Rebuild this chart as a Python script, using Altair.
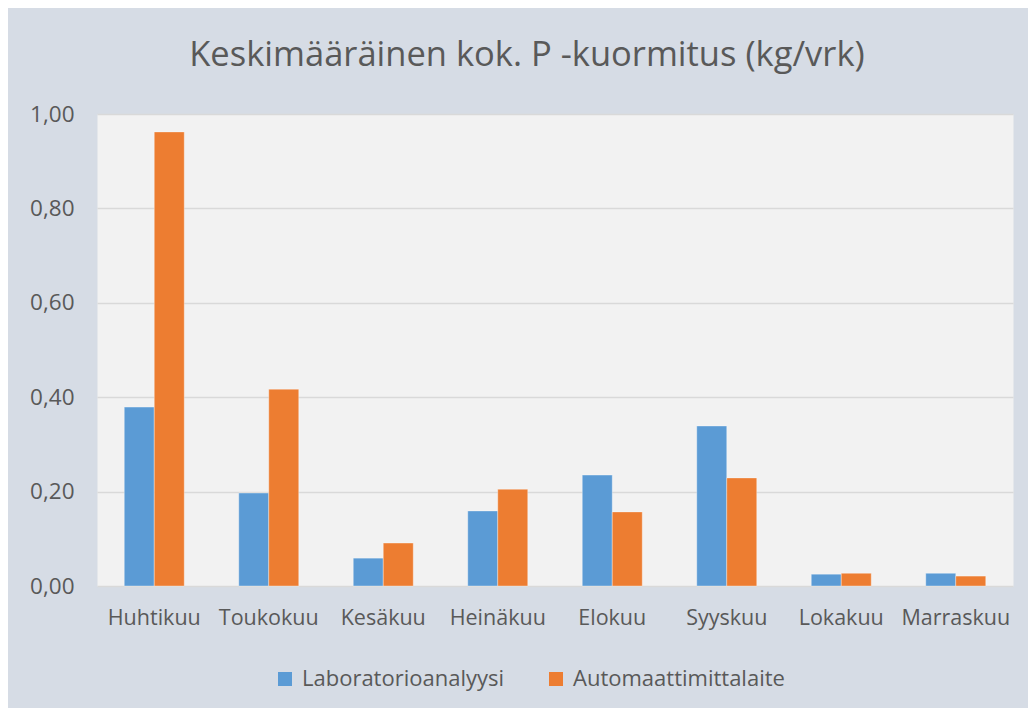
import altair as alt
import pandas as pd

months = ["Huhtikuu", "Toukokuu", "Kesäkuu", "Heinäkuu", "Elokuu", "Syyskuu", "Lokakuu", "Marraskuu"]
series = ["Laboratorioanalyysi", "Automaattimittalaite"]
lab = [0.379, 0.197, 0.059, 0.159, 0.235, 0.339, 0.025, 0.027]
auto = [0.962, 0.417, 0.091, 0.205, 0.157, 0.229, 0.027, 0.021]

rows = []
for m, a, b in zip(months, lab, auto):
    rows.append({"kuukausi": m, "sarja": series[0], "arvo": a})
    rows.append({"kuukausi": m, "sarja": series[1], "arvo": b})
df = pd.DataFrame(rows)

FONT = "Open Sans"
GREY = "#595959"

chart = alt.Chart(df).mark_bar(stroke="#ffffff", strokeOpacity=0.35, strokeWidth=1).encode(
    x=alt.X("kuukausi:N", sort=months, title=None,
            scale=alt.Scale(paddingInner=0.476, paddingOuter=0.238),
            axis=alt.Axis(labelAngle=0, ticks=False, domain=False, labelPadding=21,
                          labelFontSize=21.5, labelColor=GREY, labelFont=FONT)),
    xOffset=alt.XOffset("sarja:N", sort=series, scale=alt.Scale(paddingInner=0, paddingOuter=0)),
    y=alt.Y("arvo:Q", title=None,
            scale=alt.Scale(domain=[0, 1]),
            axis=alt.Axis(values=[0, 0.2, 0.4, 0.6, 0.8, 1.0],
                          labelExpr="replace(format(datum.value, '.2f'), '.', ',')",
                          ticks=False, domain=False, labelPadding=23,
                          labelFontSize=22.5, labelColor=GREY, labelFont=FONT,
                          gridColor="#d9d9d9", gridWidth=1.5)),
    color=alt.Color("sarja:N", sort=series, title=None,
                    scale=alt.Scale(domain=series, range=["#5b9bd5", "#ed7d31"]),
                    legend=alt.Legend(orient="none", legendX=177, legendY=554, direction="horizontal",
                                      symbolType="square", symbolSize=196, symbolStrokeWidth=0,
                                      labelFontSize=22, labelColor=GREY, labelFont=FONT,
                                      labelLimit=400, columnPadding=40, labelOffset=6)),
).properties(
    width=916,
    height=472,
    title=alt.TitleParams("Keskimääräinen kok. P -kuormitus (kg/vrk)", fontSize=34.5, font=FONT,
                          fontWeight="normal", color=GREY, offset=30, anchor="middle", dx=-28),
    autosize=alt.AutoSizeParams(type="none"),
    padding={"left": 89, "top": 106, "right": 15, "bottom": 122},
    background="#d6dce5",
).configure_view(fill="#f2f2f2", strokeOpacity=0)

chart.save("out.html", embed_options={"renderer": "svg", "actions": False})
